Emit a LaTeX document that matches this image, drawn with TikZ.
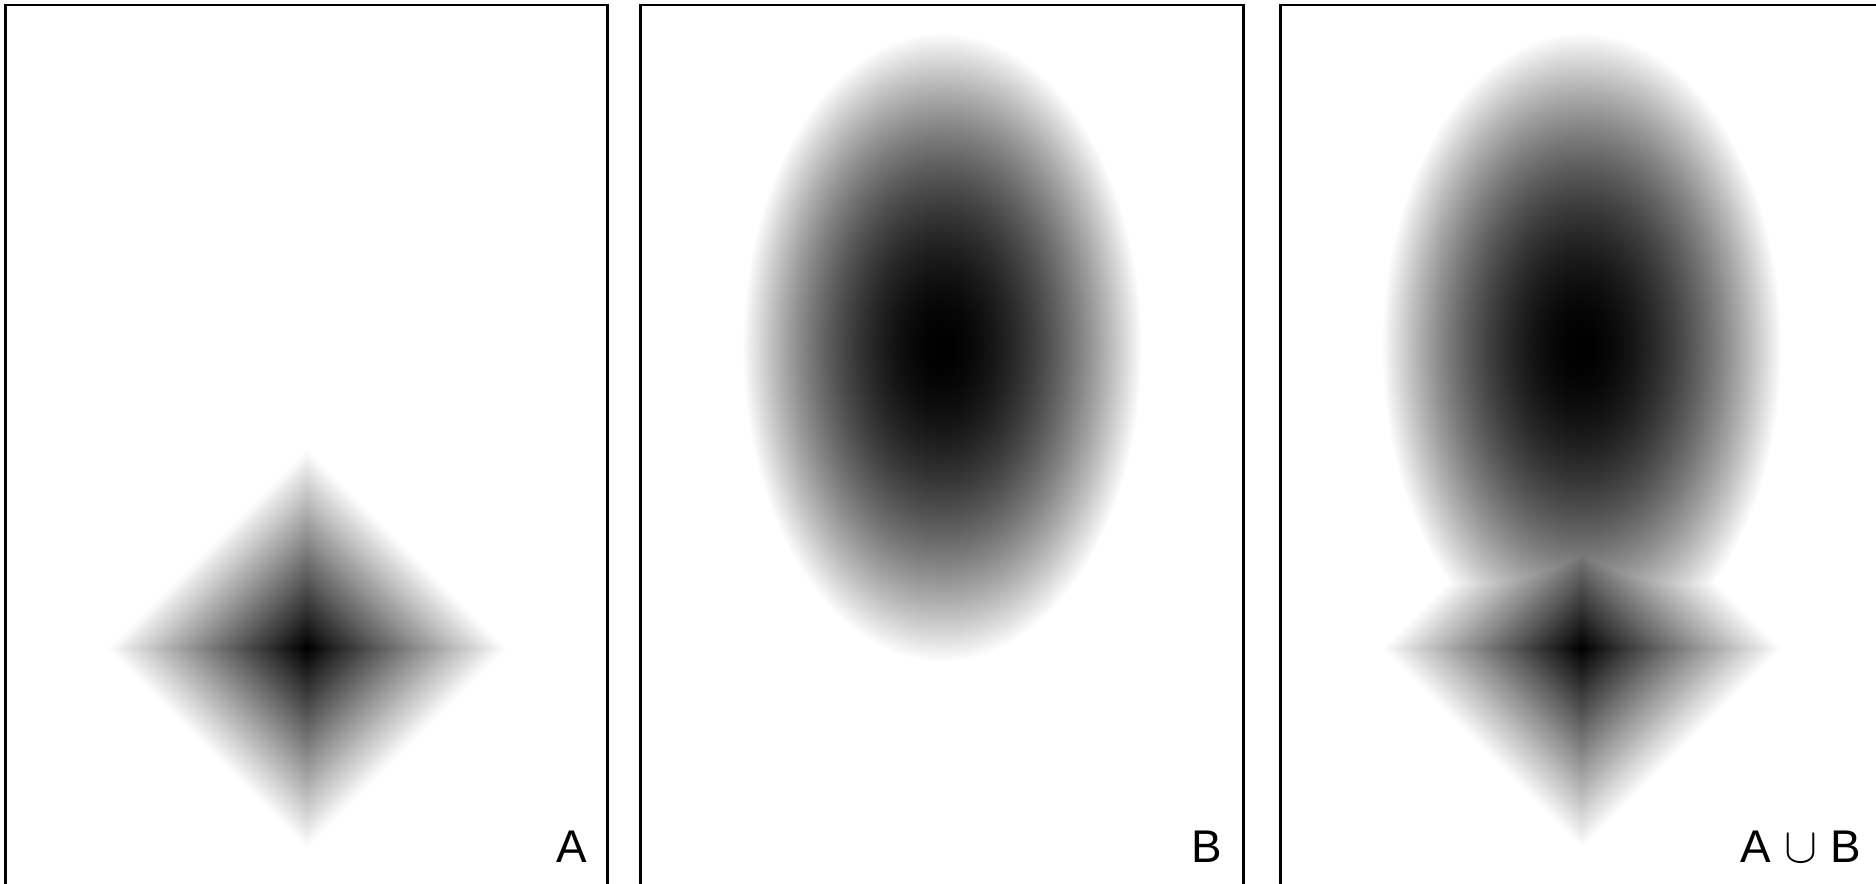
\documentclass[tikz,border=0pt]{standalone}
\usepackage{fontspec}
\setmainfont{Liberation Sans}
% 1 px of the reference = 0.5bp
\pgfdeclarefunctionalshading{diamA}{\pgfpoint{-100bp}{-100bp}}{\pgfpoint{100bp}{100bp}}{}{
  abs exch abs add 100 div dup dup
}
\pgfdeclarefunctionalshading{ellB}{\pgfpoint{-100bp}{-157.5bp}}{\pgfpoint{100bp}{157.5bp}}{}{
  157.5 div dup mul exch 100 div dup mul add sqrt 1.8 exp dup dup
}
\pgfdeclarefunctionalshading{unionAB}{\pgfpoint{-100bp}{-100bp}}{\pgfpoint{100bp}{308bp}}{}{
  2 copy abs exch abs add 100 div
  3 1 roll
  150.5 sub 157.5 div dup mul exch 100 div dup mul add sqrt 1.8 exp
  2 copy sub abs 3 1 roll add exch sub 2 div
  dup dup
}
\tikzset{
  panel/.style={draw=black, line width=1.35bp},
  shadenode/.style={inner sep=0pt, outer sep=0pt},
  lbl/.style={inner sep=0pt, anchor=base east, font=\fontsize{23}{28}\selectfont}
}
\begin{document}
\begin{tikzpicture}[x=0.5bp, y=-0.5bp]
\useasboundingbox (0,0) rectangle (1876,883);
\clip (0,0) rectangle (1876,883);
% shaded shapes
\node[shadenode] (A) at (306.5,648) {\pgfuseshading{diamA}};
\node[shadenode] (B) at (942,347) {\pgfuseshading{ellB}};
\node[shadenode, anchor=south] (AB) at (1581.5,848) {\pgfuseshading{unionAB}};
% panels
\draw[panel] (5.5,5) rectangle (607.3,920);
\draw[panel] (640.5,5) rectangle (1243.3,920);
\draw[panel] (1280.5,5) rectangle (1883,920);
% labels
\node[lbl] (la) at (587,862) {A};
\node[lbl] (lb) at (1222,862) {B};
\node[lbl] (lab) at (1861,862) {A $\cup$ B};
\end{tikzpicture}
\end{document}
